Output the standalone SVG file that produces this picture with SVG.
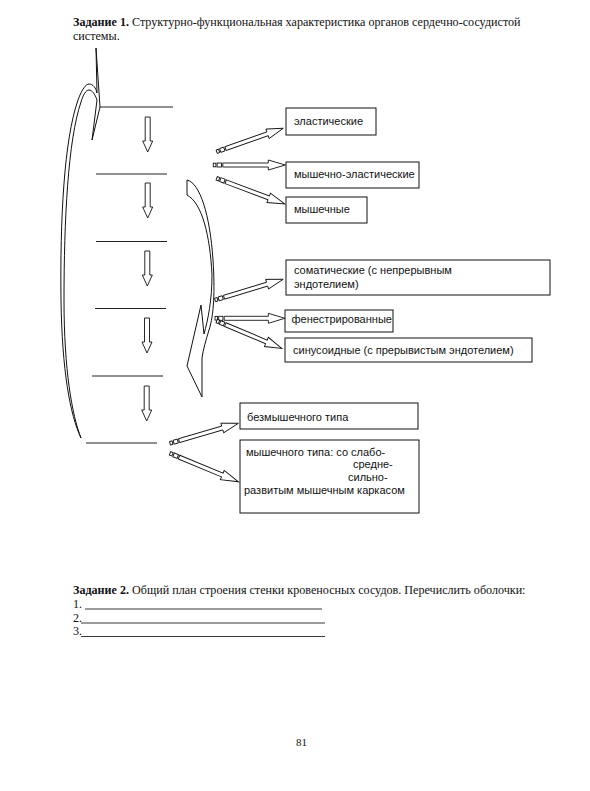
<svg xmlns="http://www.w3.org/2000/svg" xmlns:xlink="http://www.w3.org/1999/xlink" width="590" height="791" viewBox="0 0 590 791">
<style>
.serif{font-family:"Liberation Serif","Times New Roman",serif;fill:#111}
.lbl{font-family:"Liberation Sans",Arial,sans-serif;font-size:11px;fill:#111}
.box{fill:#fff;stroke:#111;stroke-width:1}
.hl{stroke:#222;stroke-width:1.2;fill:none}
.shape{fill:#fff;stroke:#111;stroke-width:1}
.sa{fill:#fff;stroke:#111;stroke-width:0.9}
</style>
<defs>
<g id="stripe">
<rect x="0" y="-1.8" width="2.6" height="3.6"/>
<rect x="3.8" y="-2" width="4.4" height="4"/>
<path d="M9.5,-2 H55 V-5 L72,0 L55,5 V2 H9.5 Z"/>
</g>
<path id="down" d="M-2.5,0 H2.5 V24 H5 L0,35 L-5,24 H-2.5 Z"/>
</defs>
<rect width="590" height="791" fill="#fff"/>
<g id="title">
<text class="serif" x="73" y="26" font-size="12.1"><tspan font-weight="bold">Задание 1.</tspan> Структурно-функциональная характеристика органов сердечно-сосудистой</text>
<text class="serif" x="73" y="39.5" font-size="12.1">системы.</text>
</g>
<g id="levels">
<line class="hl" x1="100" y1="107" x2="173" y2="107"/>
<line class="hl" x1="96" y1="174" x2="167" y2="174"/>
<line class="hl" x1="96" y1="241.5" x2="167" y2="241.5"/>
<line class="hl" x1="95" y1="308.5" x2="166" y2="308.5"/>
<line class="hl" x1="92" y1="376" x2="163" y2="376"/>
<line class="hl" x1="86" y1="443" x2="157" y2="443"/>
</g>
<g id="left-arrow">
<path class="shape" d="M81,438 C70,415 62,370 61,300 C60,220 64,140 78,100 C82,89 86,84 89,84 C93,84 96,88 97,93 L96,48 L100,107 L92,140 L97,100 C95,94 92,90 89,90 C86,90 83,95 81,102 C68,140 64,220 64,300 C64,370 72,415 81,438 Z"/>
</g>
<g id="center-arrow">
<path class="shape" d="M187,180 C200,183 210,215 213,260 C215,290 214,315 209,330 C206,340 203,350 202,358 L202,397 L187,366 L201,305 L204,334 C208,320 212,300 212,275 C210,235 202,203 187,195 Z"/>
</g>
<g id="connectors">
<g class="sa">
<use xlink:href="#down" href="#down" transform="translate(147.7,117)"/>
<use xlink:href="#down" href="#down" transform="translate(147.7,183)"/>
<use xlink:href="#down" href="#down" transform="translate(147.3,251)"/>
<use xlink:href="#down" href="#down" transform="translate(147,318)"/>
<use xlink:href="#down" href="#down" transform="translate(146.7,386)"/>
<use xlink:href="#stripe" href="#stripe" transform="translate(216.7,151.7) rotate(-19.4) scale(0.98,1)"/>
<use xlink:href="#stripe" href="#stripe" transform="translate(213.3,165) scale(1,1)"/>
<use xlink:href="#stripe" href="#stripe" transform="translate(216.7,178.3) rotate(20.6) scale(1.01,1)"/>
<use xlink:href="#stripe" href="#stripe" transform="translate(215,300) rotate(-16.9) scale(0.99,1)"/>
<use xlink:href="#stripe" href="#stripe" transform="translate(215,318.3) scale(0.97,1)"/>
<use xlink:href="#stripe" href="#stripe" transform="translate(216.7,321) rotate(22.8) scale(0.98,1)"/>
<use xlink:href="#stripe" href="#stripe" transform="translate(170,443.3) rotate(-16.3) scale(0.99,1)"/>
<use xlink:href="#stripe" href="#stripe" transform="translate(170,453.3) rotate(22.6) scale(1.03,1)"/>
</g>
</g>
<g id="n-elastic">
<rect class="box" x="286" y="108" width="90" height="27"/>
<text class="lbl" x="294" y="125">эластические</text>
</g>
<g id="n-muscle-elastic">
<rect class="box" x="286" y="162" width="133" height="26"/>
<text class="lbl" x="294" y="177.5">мышечно-эластические</text>
</g>
<g id="n-muscle">
<rect class="box" x="286" y="197" width="81" height="26"/>
<text class="lbl" x="294" y="213">мышечные</text>
</g>
<g id="n-somatic">
<rect class="box" x="286" y="260" width="264" height="35"/>
<text class="lbl" x="294" y="274">соматические (с непрерывным</text>
<text class="lbl" x="294" y="288">эндотелием)</text>
</g>
<g id="n-fenestr">
<rect class="box" x="285" y="310" width="108" height="22"/>
<text class="lbl" x="291.5" y="322.5" font-size="10.4">фенестрированные</text>
</g>
<g id="n-sinus">
<rect class="box" x="285" y="338" width="247" height="24"/>
<text class="lbl" x="293" y="354">синусоидные (с прерывистым эндотелием)</text>
</g>
<g id="n-nonmuscle">
<rect class="box" x="240" y="403" width="178" height="26"/>
<text class="lbl" x="247" y="420.5">безмышечного типа</text>
</g>
<g id="n-muscletype">
<rect class="box" x="240" y="440" width="179" height="73"/>
<text class="lbl" x="246" y="456">мышечного типа: со слабо-</text>
<text class="lbl" x="353" y="467.5">средне-</text>
<text class="lbl" x="348" y="481">сильно-</text>
<text class="lbl" x="244" y="493.5">развитым мышечным каркасом</text>
</g>
<g id="task2">
<text class="serif" x="73" y="594" font-size="12.1"><tspan font-weight="bold">Задание 2.</tspan>  Общий план строения стенки кровеносных сосудов. Перечислить оболочки:</text>
<text class="serif" x="73" y="608" font-size="12.1">1.</text>
<text class="serif" x="73" y="621.5" font-size="12.1">2.</text>
<text class="serif" x="73" y="635" font-size="12.1">3.</text>
<line x1="85" y1="609" x2="322" y2="609" stroke="#222" stroke-width="0.9"/>
<line x1="81" y1="623" x2="325" y2="623" stroke="#222" stroke-width="0.9"/>
<line x1="81" y1="636.5" x2="325" y2="636.5" stroke="#222" stroke-width="0.9"/>
</g>
<text class="serif" x="301.5" y="746" font-size="11" text-anchor="middle">81</text>
</svg>
